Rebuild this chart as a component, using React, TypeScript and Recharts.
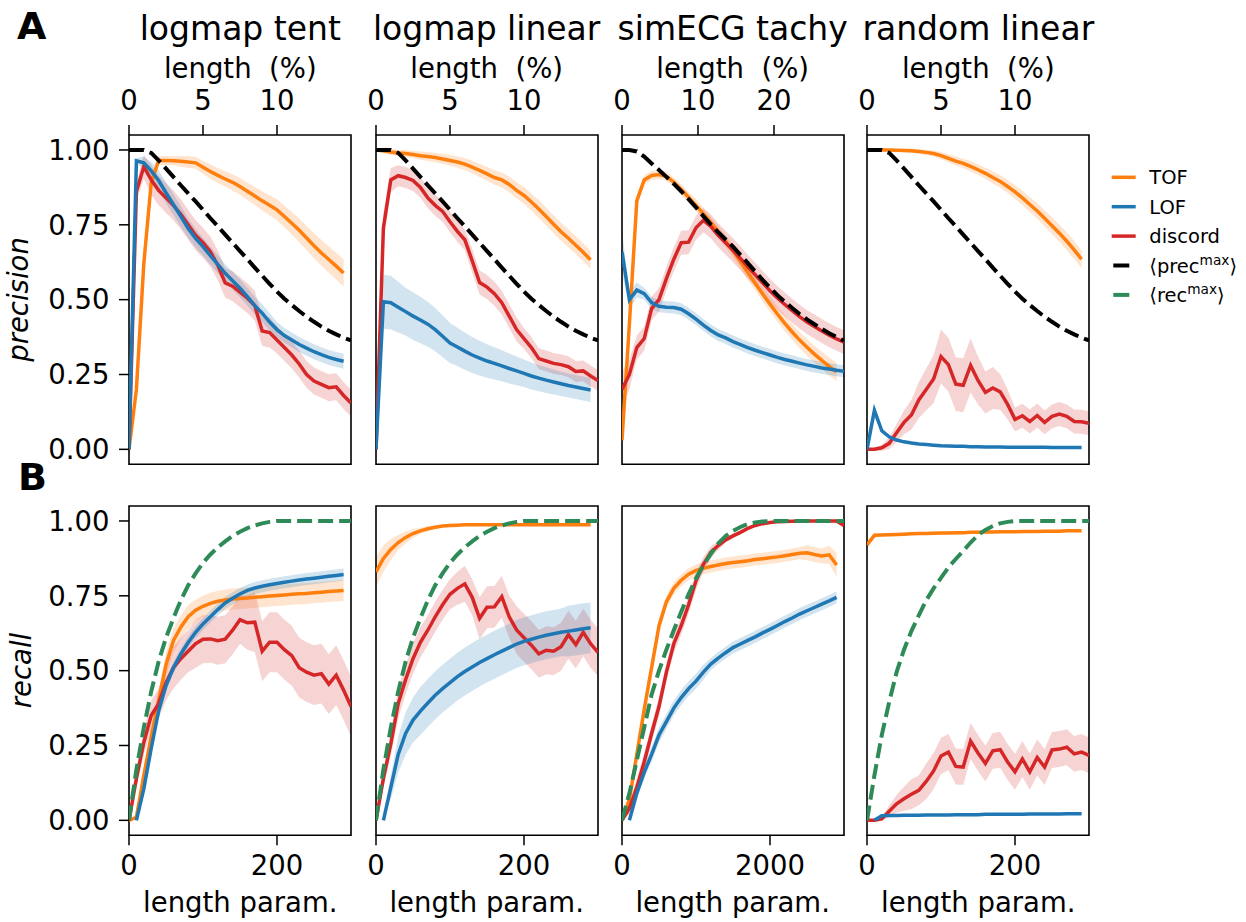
import { Area, ComposedChart, Line, ReferenceArea, XAxis, YAxis } from 'recharts';

type Vals = (number | null)[];
interface Method {
  mean: Vals;
  err: Vals;
}
interface PanelData {
  tof: Method;
  lof: Method;
  disc: Method;
  bound: Vals;
}

const FONT = '"DejaVu Sans", sans-serif';
const TOF_COLOR = '#ff7f0e';
const LOF_COLOR = '#1f77b4';
const DISC_COLOR = '#d62728';
const REC_COLOR = '#2e8b57';

// length parameter grids: logmap / random panels, and the simECG panel
const LEN_X = [0, 10, 20, 30, 40, 50, 60, 70, 80, 90, 100, 110, 120, 130, 140, 150, 160, 170, 180, 190, 200, 210, 220, 230, 240, 250, 260, 270, 280, 290, 300];
const ECG_X = [0, 100, 200, 300, 400, 500, 600, 700, 800, 900, 1000, 1100, 1200, 1300, 1400, 1500, 1600, 1700, 1800, 1900, 2000, 2100, 2200, 2300, 2400, 2500, 2600, 2700, 2800, 2900, 3000];

const TITLES = ['logmap tent', 'logmap linear', 'simECG tachy', 'random linear'];
const Y_TICKS = [0, 0.25, 0.5, 0.75, 1];
const PCT_TICKS_LEN = [0, 100, 200];
const PCT_TICKS_ECG = [0, 1027, 2054];
const PCT_LABELS_LEN = ['0', '5', '10'];
const PCT_LABELS_ECG = ['0', '10', '20'];
const REC_TOP_TICKS_LEN = [12.6, 107, 200.4];
const REC_TOP_TICKS_ECG = [126, 1070, 2004];
const BOTTOM_TICKS_LEN = [0, 200];
const BOTTOM_TICKS_ECG = [0, 2000];

// <prec^max> and <rec^max> curves
const PREC_MAX = [1, 1, 1, 0.99, 0.965, 0.938, 0.91, 0.882, 0.855, 0.828, 0.8, 0.772, 0.745, 0.717, 0.69, 0.662, 0.635, 0.607, 0.58, 0.553, 0.527, 0.503, 0.482, 0.462, 0.443, 0.426, 0.41, 0.396, 0.384, 0.373, 0.364];
const PREC_MAX_ECG = [1, 1, 0.995, 0.978, 0.955, 0.933, 0.91, 0.887, 0.862, 0.836, 0.808, 0.779, 0.751, 0.725, 0.701, 0.677, 0.65, 0.622, 0.594, 0.566, 0.54, 0.515, 0.493, 0.472, 0.452, 0.434, 0.418, 0.402, 0.388, 0.375, 0.363];
const REC_MAX_LOG = [0, 0.17, 0.31, 0.43, 0.53, 0.61, 0.675, 0.735, 0.785, 0.825, 0.86, 0.888, 0.912, 0.932, 0.95, 0.964, 0.976, 0.985, 0.992, 0.997, 1, 1, 1, 1, 1, 1, 1, 1, 1, 1, 1];
const REC_MAX_RAND = [0, 0.15, 0.285, 0.395, 0.495, 0.57, 0.632, 0.685, 0.735, 0.775, 0.81, 0.845, 0.873, 0.9, 0.928, 0.953, 0.97, 0.983, 0.992, 0.997, 1, 1, 1, 1, 1, 1, 1, 1, 1, 1, 1];
const REC_MAX_ECG = [0, 0.09, 0.2, 0.31, 0.42, 0.5, 0.57, 0.635, 0.697, 0.755, 0.808, 0.852, 0.89, 0.925, 0.95, 0.967, 0.98, 0.99, 0.995, 0.998, 1, 1, 1, 1, 1, 1, 1, 1, 1, 1, 1];

// logmap tent
const TENT_PREC_TOF = [0, 0.2, 0.62, 0.89, 0.965, 0.965, 0.964, 0.962, 0.96, 0.957, 0.942, 0.928, 0.915, 0.903, 0.892, 0.878, 0.862, 0.846, 0.83, 0.815, 0.8, 0.778, 0.755, 0.732, 0.706, 0.68, 0.656, 0.634, 0.612, 0.589, null];
const TENT_PREC_TOF_ERR = [0, 0.03, 0.04, 0.025, 0.015, 0.015, 0.015, 0.018, 0.02, 0.02, 0.022, 0.024, 0.025, 0.026, 0.027, 0.028, 0.029, 0.03, 0.032, 0.034, 0.035, 0.036, 0.038, 0.04, 0.04, 0.042, 0.043, 0.044, 0.045, 0.045, null];
const TENT_PREC_LOF = [0, 0.964, 0.957, 0.93, 0.898, 0.857, 0.818, 0.778, 0.738, 0.705, 0.677, 0.647, 0.618, 0.588, 0.563, 0.538, 0.51, 0.48, 0.455, 0.425, 0.4, 0.38, 0.365, 0.35, 0.338, 0.326, 0.316, 0.307, 0.3, 0.294, null];
const TENT_PREC_LOF_ERR = [0, 0.01, 0.02, 0.03, 0.035, 0.035, 0.035, 0.035, 0.033, 0.032, 0.03, 0.03, 0.03, 0.03, 0.03, 0.03, 0.03, 0.03, 0.03, 0.03, 0.025, 0.025, 0.025, 0.025, 0.025, 0.025, 0.025, 0.025, 0.025, 0.025, null];
const TENT_PREC_DISC = [0, 0.86, 0.944, 0.9, 0.865, 0.84, 0.815, 0.785, 0.75, 0.715, 0.69, 0.66, 0.615, 0.556, 0.545, 0.525, 0.505, 0.48, 0.395, 0.39, 0.365, 0.34, 0.315, 0.285, 0.25, 0.228, 0.217, 0.206, 0.209, 0.18, 0.155];
const TENT_PREC_DISC_ERR = [0, 0.03, 0.04, 0.05, 0.05, 0.05, 0.05, 0.05, 0.05, 0.05, 0.05, 0.05, 0.05, 0.05, 0.05, 0.05, 0.05, 0.05, 0.05, 0.05, 0.045, 0.045, 0.045, 0.045, 0.045, 0.045, 0.045, 0.045, 0.045, 0.045, 0.045];
const TENT_REC_TOF = [0, 0.01, 0.15, 0.28, 0.4, 0.52, 0.6, 0.645, 0.68, 0.702, 0.715, 0.725, 0.732, 0.736, 0.739, 0.741, 0.743, 0.745, 0.747, 0.749, 0.751, 0.753, 0.755, 0.757, 0.758, 0.76, 0.762, 0.764, 0.766, 0.768, null];
const TENT_REC_TOF_ERR = [0, 0.01, 0.02, 0.03, 0.035, 0.04, 0.04, 0.04, 0.04, 0.035, 0.035, 0.035, 0.035, 0.035, 0.035, 0.035, 0.035, 0.035, 0.035, 0.035, 0.035, 0.035, 0.035, 0.035, 0.035, 0.035, 0.035, 0.035, 0.035, 0.035, null];
const TENT_REC_LOF = [null, 0, 0.105, 0.24, 0.365, 0.45, 0.51, 0.555, 0.594, 0.628, 0.656, 0.68, 0.704, 0.726, 0.742, 0.756, 0.768, 0.776, 0.782, 0.787, 0.791, 0.795, 0.799, 0.803, 0.806, 0.809, 0.812, 0.815, 0.818, 0.821, null];
const TENT_REC_LOF_ERR = [null, 0, 0.01, 0.02, 0.02, 0.02, 0.02, 0.02, 0.02, 0.02, 0.02, 0.02, 0.02, 0.02, 0.02, 0.02, 0.02, 0.02, 0.02, 0.02, 0.02, 0.02, 0.02, 0.02, 0.02, 0.02, 0.02, 0.02, 0.02, 0.02, null];
const TENT_REC_DISC = [0, 0.14, 0.26, 0.35, 0.39, 0.46, 0.51, 0.54, 0.565, 0.59, 0.605, 0.606, 0.6, 0.605, 0.635, 0.67, 0.66, 0.662, 0.565, 0.595, 0.595, 0.57, 0.55, 0.51, 0.495, 0.485, 0.49, 0.455, 0.485, 0.435, 0.38];
const TENT_REC_DISC_ERR = [0, 0.03, 0.04, 0.05, 0.05, 0.06, 0.07, 0.07, 0.07, 0.08, 0.08, 0.08, 0.08, 0.08, 0.08, 0.08, 0.09, 0.1, 0.1, 0.1, 0.1, 0.1, 0.1, 0.1, 0.1, 0.1, 0.1, 0.1, 0.1, 0.1, 0.1];

// logmap linear
const LIN_PREC_TOF = [1, 0.997, 0.993, 0.99, 0.988, 0.985, 0.981, 0.978, 0.975, 0.97, 0.965, 0.96, 0.953, 0.943, 0.932, 0.92, 0.908, 0.9, 0.885, 0.865, 0.848, 0.826, 0.803, 0.778, 0.752, 0.727, 0.705, 0.682, 0.658, 0.633, null];
const LIN_PREC_TOF_ERR = [0.005, 0.008, 0.01, 0.01, 0.012, 0.012, 0.014, 0.015, 0.016, 0.017, 0.018, 0.019, 0.02, 0.021, 0.022, 0.023, 0.024, 0.025, 0.026, 0.027, 0.028, 0.029, 0.03, 0.03, 0.03, 0.03, 0.03, 0.03, 0.03, 0.03, null];
const LIN_PREC_LOF = [0, 0.493, 0.49, 0.475, 0.46, 0.445, 0.432, 0.418, 0.4, 0.378, 0.355, 0.342, 0.328, 0.315, 0.305, 0.295, 0.287, 0.279, 0.27, 0.262, 0.254, 0.245, 0.238, 0.231, 0.225, 0.219, 0.213, 0.208, 0.203, 0.198, null];
const LIN_PREC_LOF_ERR = [0, 0.09, 0.09, 0.085, 0.08, 0.08, 0.078, 0.075, 0.072, 0.07, 0.067, 0.064, 0.062, 0.06, 0.058, 0.056, 0.054, 0.052, 0.05, 0.048, 0.046, 0.045, 0.044, 0.043, 0.042, 0.041, 0.04, 0.04, 0.04, 0.04, null];
const LIN_PREC_DISC = [0, 0.74, 0.9, 0.914, 0.908, 0.898, 0.875, 0.84, 0.815, 0.795, 0.76, 0.728, 0.7, 0.63, 0.557, 0.542, 0.52, 0.49, 0.445, 0.4, 0.37, 0.34, 0.303, 0.295, 0.287, 0.283, 0.276, 0.26, 0.262, 0.245, 0.23];
const LIN_PREC_DISC_ERR = [0, 0.05, 0.04, 0.035, 0.035, 0.035, 0.035, 0.035, 0.035, 0.035, 0.035, 0.035, 0.035, 0.04, 0.04, 0.04, 0.04, 0.04, 0.04, 0.04, 0.035, 0.035, 0.035, 0.035, 0.035, 0.035, 0.035, 0.035, 0.035, 0.035, 0.035];
const LIN_REC_TOF = [0.83, 0.875, 0.905, 0.928, 0.945, 0.958, 0.967, 0.974, 0.979, 0.983, 0.985, 0.986, 0.987, 0.987, 0.987, 0.987, 0.987, 0.987, 0.987, 0.987, 0.987, 0.987, 0.987, 0.987, 0.987, 0.987, 0.987, 0.987, 0.987, 0.987, null];
const LIN_REC_TOF_ERR = [0.05, 0.045, 0.035, 0.025, 0.02, 0.015, 0.01, 0.008, 0.006, 0.005, 0.004, 0.003, 0.003, 0.003, 0.003, 0.003, 0.003, 0.003, 0.003, 0.003, 0.003, 0.003, 0.003, 0.003, 0.003, 0.003, 0.003, 0.003, 0.003, 0.003, null];
const LIN_REC_LOF = [null, 0, 0.11, 0.22, 0.29, 0.335, 0.365, 0.392, 0.418, 0.44, 0.46, 0.48, 0.497, 0.512, 0.527, 0.54, 0.553, 0.565, 0.577, 0.589, 0.598, 0.605, 0.612, 0.618, 0.623, 0.628, 0.632, 0.636, 0.64, 0.643, null];
const LIN_REC_LOF_ERR = [null, 0, 0.04, 0.06, 0.07, 0.075, 0.08, 0.08, 0.08, 0.08, 0.08, 0.08, 0.08, 0.08, 0.08, 0.08, 0.08, 0.08, 0.08, 0.08, 0.08, 0.08, 0.08, 0.08, 0.08, 0.08, 0.085, 0.085, 0.085, 0.085, null];
const LIN_REC_DISC = [0, 0.14, 0.255, 0.39, 0.47, 0.54, 0.595, 0.635, 0.68, 0.72, 0.755, 0.775, 0.79, 0.745, 0.675, 0.712, 0.713, 0.747, 0.68, 0.636, 0.61, 0.585, 0.556, 0.568, 0.565, 0.58, 0.62, 0.587, 0.628, 0.59, 0.561];
const LIN_REC_DISC_ERR = [0, 0.03, 0.04, 0.05, 0.05, 0.05, 0.05, 0.05, 0.05, 0.05, 0.05, 0.055, 0.06, 0.06, 0.07, 0.07, 0.07, 0.07, 0.07, 0.08, 0.08, 0.08, 0.08, 0.08, 0.08, 0.08, 0.08, 0.08, 0.08, 0.08, 0.08];

// simECG tachy
const ECG_PREC_TOF = [0.03, 0.42, 0.83, 0.9, 0.915, 0.918, 0.912, 0.893, 0.868, 0.842, 0.815, 0.787, 0.758, 0.728, 0.696, 0.663, 0.627, 0.591, 0.555, 0.519, 0.485, 0.452, 0.421, 0.392, 0.365, 0.341, 0.318, 0.297, 0.277, 0.259, null];
const ECG_PREC_TOF_ERR = [0.02, 0.03, 0.02, 0.015, 0.015, 0.015, 0.015, 0.015, 0.018, 0.018, 0.02, 0.02, 0.02, 0.02, 0.02, 0.022, 0.022, 0.024, 0.024, 0.025, 0.025, 0.026, 0.026, 0.027, 0.027, 0.028, 0.028, 0.029, 0.03, 0.03, null];
const ECG_PREC_LOF = [0.66, 0.5, 0.532, 0.52, 0.49, 0.478, 0.475, 0.474, 0.468, 0.453, 0.435, 0.415, 0.397, 0.382, 0.372, 0.36, 0.35, 0.34, 0.331, 0.323, 0.315, 0.307, 0.3, 0.294, 0.288, 0.282, 0.277, 0.272, 0.268, 0.264, 0.261];
const ECG_PREC_LOF_ERR = [0.07, 0.03, 0.025, 0.02, 0.02, 0.02, 0.02, 0.02, 0.02, 0.02, 0.02, 0.02, 0.02, 0.02, 0.02, 0.02, 0.02, 0.02, 0.02, 0.02, 0.02, 0.02, 0.02, 0.02, 0.02, 0.02, 0.02, 0.02, 0.02, 0.02, 0.02];
const ECG_PREC_DISC = [0.2, 0.25, 0.34, 0.37, 0.47, 0.5, 0.57, 0.635, 0.69, 0.692, 0.74, 0.765, 0.745, 0.715, 0.69, 0.665, 0.638, 0.61, 0.583, 0.556, 0.53, 0.506, 0.484, 0.463, 0.443, 0.425, 0.41, 0.395, 0.381, 0.369, 0.358];
const ECG_PREC_DISC_ERR = [0.06, 0.05, 0.04, 0.04, 0.04, 0.04, 0.04, 0.04, 0.04, 0.04, 0.04, 0.04, 0.04, 0.04, 0.04, 0.04, 0.04, 0.04, 0.04, 0.04, 0.04, 0.04, 0.04, 0.04, 0.04, 0.04, 0.04, 0.04, 0.04, 0.04, 0.04];
const ECG_REC_TOF = [0, 0.07, 0.22, 0.37, 0.51, 0.65, 0.73, 0.775, 0.802, 0.822, 0.835, 0.842, 0.848, 0.853, 0.858, 0.861, 0.864, 0.867, 0.871, 0.874, 0.877, 0.88, 0.884, 0.888, 0.892, 0.894, 0.888, 0.883, 0.887, 0.853, null];
const ECG_REC_TOF_ERR = [0, 0.02, 0.03, 0.03, 0.03, 0.025, 0.02, 0.02, 0.02, 0.02, 0.02, 0.02, 0.02, 0.02, 0.02, 0.02, 0.02, 0.02, 0.02, 0.02, 0.02, 0.02, 0.02, 0.02, 0.02, 0.025, 0.025, 0.025, 0.03, 0.04, null];
const ECG_REC_LOF = [null, 0, 0.09, 0.16, 0.22, 0.285, 0.33, 0.375, 0.41, 0.44, 0.465, 0.495, 0.522, 0.542, 0.56, 0.577, 0.589, 0.601, 0.613, 0.626, 0.638, 0.651, 0.664, 0.676, 0.689, 0.7, 0.711, 0.722, 0.733, 0.745, null];
const ECG_REC_LOF_ERR = [null, 0, 0.015, 0.02, 0.025, 0.025, 0.025, 0.025, 0.025, 0.025, 0.025, 0.025, 0.02, 0.02, 0.02, 0.02, 0.02, 0.02, 0.02, 0.02, 0.02, 0.02, 0.02, 0.02, 0.02, 0.02, 0.02, 0.02, 0.02, 0.02, null];
const ECG_REC_DISC = [0, 0.04, 0.11, 0.195, 0.29, 0.38, 0.495, 0.59, 0.65, 0.72, 0.8, 0.855, 0.895, 0.918, 0.937, 0.95, 0.962, 0.975, 0.985, 0.991, 0.995, 0.997, 0.998, 0.999, 0.999, 1, 1, 1, 1, 1, 0.985];
const ECG_REC_DISC_ERR = [0, 0.02, 0.03, 0.03, 0.03, 0.03, 0.03, 0.03, 0.03, 0.03, 0.03, 0.025, 0.02, 0.015, 0.01, 0.008, 0.006, 0.005, 0.004, 0.003, 0.002, 0.002, 0.002, 0.002, 0.002, 0.002, 0.002, 0.002, 0.002, 0.002, 0.01];

// random linear
const RAND_PREC_TOF = [1, 1, 1, 1, 0.999, 0.998, 0.997, 0.995, 0.992, 0.988, 0.981, 0.972, 0.963, 0.955, 0.945, 0.934, 0.922, 0.908, 0.895, 0.878, 0.86, 0.84, 0.818, 0.796, 0.772, 0.747, 0.722, 0.695, 0.666, 0.635, null];
const RAND_PREC_TOF_ERR = [0.002, 0.002, 0.003, 0.004, 0.005, 0.006, 0.007, 0.008, 0.009, 0.01, 0.012, 0.014, 0.015, 0.016, 0.017, 0.018, 0.019, 0.02, 0.021, 0.022, 0.023, 0.024, 0.025, 0.026, 0.027, 0.028, 0.029, 0.03, 0.03, 0.03, null];
const RAND_PREC_LOF = [0, 0.13, 0.062, 0.042, 0.031, 0.025, 0.021, 0.018, 0.016, 0.014, 0.012, 0.011, 0.01, 0.01, 0.009, 0.009, 0.008, 0.008, 0.008, 0.007, 0.007, 0.007, 0.007, 0.007, 0.007, 0.006, 0.006, 0.006, 0.006, 0.006, null];
const RAND_PREC_LOF_ERR = [0, 0.02, 0.01, 0.006, 0.005, 0.004, 0.004, 0.003, 0.003, 0.003, 0.003, 0.003, 0.003, 0.003, 0.003, 0.003, 0.003, 0.003, 0.003, 0.003, 0.003, 0.003, 0.003, 0.003, 0.003, 0.003, 0.003, 0.003, 0.003, 0.003, null];
const RAND_PREC_DISC = [0, 0, 0.005, 0.02, 0.055, 0.09, 0.115, 0.165, 0.2, 0.235, 0.31, 0.283, 0.218, 0.214, 0.28, 0.23, 0.19, 0.205, 0.192, 0.15, 0.1, 0.112, 0.093, 0.113, 0.09, 0.11, 0.118, 0.11, 0.093, 0.092, 0.087];
const RAND_PREC_DISC_ERR = [0, 0.005, 0.01, 0.02, 0.03, 0.04, 0.05, 0.06, 0.07, 0.08, 0.09, 0.09, 0.09, 0.09, 0.09, 0.08, 0.07, 0.07, 0.06, 0.05, 0.04, 0.04, 0.04, 0.04, 0.04, 0.04, 0.04, 0.04, 0.04, 0.04, 0.04];
const RAND_REC_TOF = [0.92, 0.952, 0.953, 0.954, 0.955, 0.956, 0.957, 0.958, 0.958, 0.959, 0.96, 0.96, 0.961, 0.961, 0.962, 0.962, 0.963, 0.963, 0.964, 0.964, 0.964, 0.965, 0.965, 0.965, 0.966, 0.966, 0.966, 0.967, 0.967, 0.967, null];
const RAND_REC_TOF_ERR = [0.01, 0.006, 0.005, 0.005, 0.005, 0.005, 0.005, 0.005, 0.005, 0.005, 0.005, 0.005, 0.005, 0.005, 0.005, 0.005, 0.005, 0.005, 0.005, 0.005, 0.005, 0.005, 0.005, 0.005, 0.005, 0.005, 0.005, 0.005, 0.005, 0.005, null];
const RAND_REC_LOF = [null, 0, 0.015, 0.016, 0.016, 0.017, 0.017, 0.017, 0.018, 0.018, 0.018, 0.018, 0.019, 0.019, 0.019, 0.019, 0.02, 0.02, 0.02, 0.02, 0.02, 0.02, 0.021, 0.021, 0.021, 0.021, 0.021, 0.022, 0.022, 0.022, null];
const RAND_REC_LOF_ERR = [null, 0, 0.003, 0.003, 0.003, 0.003, 0.003, 0.003, 0.003, 0.003, 0.003, 0.003, 0.003, 0.003, 0.003, 0.003, 0.003, 0.003, 0.003, 0.003, 0.003, 0.003, 0.003, 0.003, 0.003, 0.003, 0.003, 0.003, 0.003, 0.003, null];
const RAND_REC_DISC = [0, 0, 0.005, 0.03, 0.055, 0.072, 0.087, 0.1, 0.13, 0.165, 0.215, 0.228, 0.18, 0.178, 0.265, 0.225, 0.19, 0.232, 0.236, 0.195, 0.162, 0.205, 0.162, 0.21, 0.178, 0.235, 0.238, 0.244, 0.222, 0.228, 0.217];
const RAND_REC_DISC_ERR = [0, 0, 0.005, 0.02, 0.03, 0.04, 0.05, 0.05, 0.06, 0.06, 0.06, 0.06, 0.06, 0.06, 0.06, 0.06, 0.06, 0.06, 0.06, 0.06, 0.06, 0.06, 0.06, 0.06, 0.06, 0.06, 0.06, 0.06, 0.06, 0.06, 0.06];

const PREC_PANELS: PanelData[] = [
  { tof: { mean: TENT_PREC_TOF, err: TENT_PREC_TOF_ERR }, lof: { mean: TENT_PREC_LOF, err: TENT_PREC_LOF_ERR }, disc: { mean: TENT_PREC_DISC, err: TENT_PREC_DISC_ERR }, bound: PREC_MAX },
  { tof: { mean: LIN_PREC_TOF, err: LIN_PREC_TOF_ERR }, lof: { mean: LIN_PREC_LOF, err: LIN_PREC_LOF_ERR }, disc: { mean: LIN_PREC_DISC, err: LIN_PREC_DISC_ERR }, bound: PREC_MAX },
  { tof: { mean: ECG_PREC_TOF, err: ECG_PREC_TOF_ERR }, lof: { mean: ECG_PREC_LOF, err: ECG_PREC_LOF_ERR }, disc: { mean: ECG_PREC_DISC, err: ECG_PREC_DISC_ERR }, bound: PREC_MAX_ECG },
  { tof: { mean: RAND_PREC_TOF, err: RAND_PREC_TOF_ERR }, lof: { mean: RAND_PREC_LOF, err: RAND_PREC_LOF_ERR }, disc: { mean: RAND_PREC_DISC, err: RAND_PREC_DISC_ERR }, bound: PREC_MAX },
];
const REC_PANELS: PanelData[] = [
  { tof: { mean: TENT_REC_TOF, err: TENT_REC_TOF_ERR }, lof: { mean: TENT_REC_LOF, err: TENT_REC_LOF_ERR }, disc: { mean: TENT_REC_DISC, err: TENT_REC_DISC_ERR }, bound: REC_MAX_LOG },
  { tof: { mean: LIN_REC_TOF, err: LIN_REC_TOF_ERR }, lof: { mean: LIN_REC_LOF, err: LIN_REC_LOF_ERR }, disc: { mean: LIN_REC_DISC, err: LIN_REC_DISC_ERR }, bound: REC_MAX_LOG },
  { tof: { mean: ECG_REC_TOF, err: ECG_REC_TOF_ERR }, lof: { mean: ECG_REC_LOF, err: ECG_REC_LOF_ERR }, disc: { mean: ECG_REC_DISC, err: ECG_REC_DISC_ERR }, bound: REC_MAX_ECG },
  { tof: { mean: RAND_REC_TOF, err: RAND_REC_TOF_ERR }, lof: { mean: RAND_REC_LOF, err: RAND_REC_LOF_ERR }, disc: { mean: RAND_REC_DISC, err: RAND_REC_DISC_ERR }, bound: REC_MAX_RAND },
];

// layout (page pixels)
const PLOT_LEFT = [129.3, 375.7, 621.7, 867.3];
const ROW_TOP = [135, 505.7];
const PLOT_W = 222;
const PLOT_H = 329.3;
const AXIS_W = 120;
const TOP_H = 60;
const BOTTOM_H = 60;
const TICK_FONT = 27.5;
const LINE_W = 3.5;
const DASH_W = 4;

const tickStyle = { fill: '#000', fontSize: TICK_FONT, fontFamily: FONT };
const tickLine = { stroke: '#000', strokeWidth: 1.5 };

function band(m: Method, i: number): [number, number] | null {
  const v = m.mean[i];
  const e = m.err[i];
  if (v == null || e == null) return null;
  return [v - e, v + e];
}

function Panel({ row, col }: { row: number; col: number }) {
  const d = row === 0 ? PREC_PANELS[col] : REC_PANELS[col];
  const ecg = col === 2;
  const xs = ecg ? ECG_X : LEN_X;
  const xMax = ecg ? 3000 : 300;
  const data = xs.map((x, i) => ({
    x,
    tof: d.tof.mean[i],
    tofBand: band(d.tof, i),
    lof: d.lof.mean[i],
    lofBand: band(d.lof, i),
    disc: d.disc.mean[i],
    discBand: band(d.disc, i),
    bound: d.bound[i],
  }));
  const topTicks = row === 0 ? (ecg ? PCT_TICKS_ECG : PCT_TICKS_LEN) : ecg ? REC_TOP_TICKS_ECG : REC_TOP_TICKS_LEN;
  const topLabels = ecg ? PCT_LABELS_ECG : PCT_LABELS_LEN;
  const bottomTicks = ecg ? BOTTOM_TICKS_ECG : BOTTOM_TICKS_LEN;

  return (
    <div style={{ position: 'absolute', left: PLOT_LEFT[col] - AXIS_W, top: ROW_TOP[row] - TOP_H }}>
      <ComposedChart
        width={AXIS_W + PLOT_W + 2}
        height={TOP_H + PLOT_H + BOTTOM_H}
        data={data}
        margin={{ top: 0, right: 2, bottom: 0, left: 0 }}
      >
        <XAxis
          dataKey="x"
          type="number"
          domain={[0, xMax]}
          allowDataOverflow
          ticks={bottomTicks}
          interval={0}
          height={BOTTOM_H}
          axisLine={false}
          tickLine={tickLine}
          tickSize={10}
          tickMargin={10.5}
          tick={row === 1 ? tickStyle : false}
        />
        <XAxis
          xAxisId="top"
          dataKey="x"
          orientation="top"
          type="number"
          domain={[0, xMax]}
          allowDataOverflow
          ticks={topTicks}
          interval={0}
          height={TOP_H}
          axisLine={false}
          tickLine={tickLine}
          tickSize={10}
          tickMargin={15}
          tick={row === 0 ? tickStyle : false}
          tickFormatter={(v: number) => topLabels[topTicks.indexOf(v)] ?? ''}
        />
        <YAxis
          type="number"
          domain={[-0.05, 1.05]}
          allowDataOverflow
          ticks={Y_TICKS}
          interval={0}
          width={AXIS_W}
          axisLine={false}
          tickLine={tickLine}
          tickSize={10}
          tickMargin={9.5}
          tick={col === 0 ? tickStyle : false}
          tickFormatter={(v: number) => v.toFixed(2)}
        />
        {/* the secondary (percent) axis needs a series of its own to get a scale */}
        <Line xAxisId="top" dataKey="bound" stroke="none" strokeWidth={0} dot={false} activeDot={false} legendType="none" isAnimationActive={false} />
        <Area dataKey="tofBand" type="linear" stroke="none" fill={TOF_COLOR} fillOpacity={0.2} dot={false} activeDot={false} isAnimationActive={false} />
        <Line dataKey="tof" type="linear" stroke={TOF_COLOR} strokeWidth={LINE_W} dot={false} activeDot={false} isAnimationActive={false} />
        <Area dataKey="discBand" type="linear" stroke="none" fill={DISC_COLOR} fillOpacity={0.2} dot={false} activeDot={false} isAnimationActive={false} />
        <Line dataKey="disc" type="linear" stroke={DISC_COLOR} strokeWidth={LINE_W} dot={false} activeDot={false} isAnimationActive={false} />
        <Area dataKey="lofBand" type="linear" stroke="none" fill={LOF_COLOR} fillOpacity={0.2} dot={false} activeDot={false} isAnimationActive={false} />
        <Line dataKey="lof" type="linear" stroke={LOF_COLOR} strokeWidth={LINE_W} dot={false} activeDot={false} isAnimationActive={false} />
        <Line
          dataKey="bound"
          type="linear"
          stroke={row === 0 ? '#000' : REC_COLOR}
          strokeWidth={DASH_W}
          strokeDasharray="15 6"
          dot={false}
          activeDot={false}
          isAnimationActive={false}
        />
        <ReferenceArea x1={0} x2={xMax} y1={-0.05} y2={1.05} fill="none" stroke="#000" strokeWidth={1.6} />
      </ComposedChart>
    </div>
  );
}

const LEGEND = [
  { label: 'TOF', color: TOF_COLOR, dashed: false },
  { label: 'LOF', color: LOF_COLOR, dashed: false },
  { label: 'discord', color: DISC_COLOR, dashed: false },
  { label: 'prec', color: '#000', dashed: true },
  { label: 'rec', color: REC_COLOR, dashed: true },
];

function Overlay() {
  return (
    <svg width={1246} height={922} style={{ position: 'absolute', left: 0, top: 0, pointerEvents: 'none' }} fontFamily={FONT}>
      <text x={17} y={38.5} fontSize={38} fontWeight="bold">A</text>
      <text x={18} y={490} fontSize={38} fontWeight="bold">B</text>
      {TITLES.map((t, c) => (
        <g key={t}>
          <text x={PLOT_LEFT[c] + PLOT_W / 2} y={40} fontSize={33} textAnchor="middle">{t}</text>
          <text x={PLOT_LEFT[c] + PLOT_W / 2} y={77.5} fontSize={TICK_FONT} textAnchor="middle">{'length\u00a0\u00a0(%)'}</text>
          <text x={PLOT_LEFT[c] + PLOT_W / 2} y={912} fontSize={TICK_FONT} textAnchor="middle">length param.</text>
        </g>
      ))}
      <text transform="translate(28,299.5) rotate(-90)" fontSize={TICK_FONT} fontStyle="italic" textAnchor="middle">precision</text>
      <text transform="translate(31,670.5) rotate(-90)" fontSize={TICK_FONT} fontStyle="italic" textAnchor="middle">recall</text>
      {LEGEND.map((e, i) => {
        const base = 184.3 + i * 29.4;
        return (
          <g key={e.label}>
            {e.dashed ? (
              <line x1={1113.3} x2={1129.3} y1={base - 7} y2={base - 7} stroke={e.color} strokeWidth={DASH_W} />
            ) : (
              <line x1={1111.7} x2={1135.7} y1={base - 7} y2={base - 7} stroke={e.color} strokeWidth={LINE_W} />
            )}
            {e.dashed ? (
              <text x={1149.3} y={base} fontSize={19.5}>
                {'\u27e8' + e.label}
                <tspan dy={-8} fontSize={13.7}>max</tspan>
                <tspan dy={8}>{'\u27e9'}</tspan>
              </text>
            ) : (
              <text x={1149.3} y={base} fontSize={19.5}>{e.label}</text>
            )}
          </g>
        );
      })}
    </svg>
  );
}

export default function App() {
  return (
    <div style={{ position: 'absolute', left: 0, top: 0, width: 1246, height: 922, background: '#fff' }}>
      {[0, 1].map((row) => [0, 1, 2, 3].map((col) => <Panel key={`${row}-${col}`} row={row} col={col} />))}
      <Overlay />
    </div>
  );
}
